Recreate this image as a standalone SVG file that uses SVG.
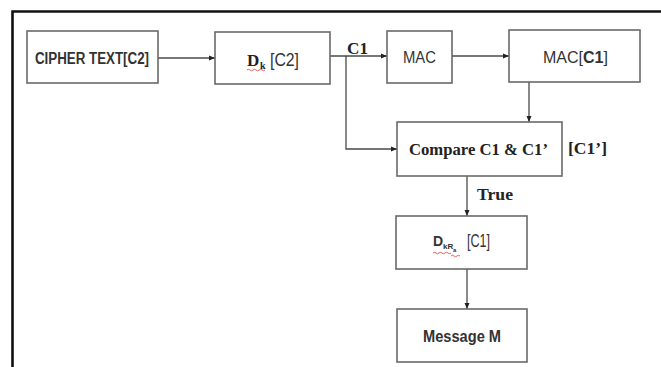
<svg xmlns="http://www.w3.org/2000/svg" width="661" height="367" viewBox="0 0 661 367">
<style>
.box{fill:#fff;stroke:#6a6a6a;stroke-width:1.6}
.ln{fill:none;stroke:#4a4a4a;stroke-width:1.3}
.sans{font-family:"Liberation Sans",Arial,sans-serif;fill:#333}
.serif{font-family:"Liberation Serif","Times New Roman",serif;font-weight:bold;fill:#222}
.sq{fill:none;stroke:#e05050;stroke-width:0.9}
</style>
<defs>
<marker id="ah" markerWidth="6" markerHeight="6" refX="6" refY="3" orient="auto" markerUnits="userSpaceOnUse">
<path d="M0,0.5 L6,3 L0,5.5 z" fill="#222"/>
</marker>
</defs>
<rect x="0" y="0" width="661" height="367" fill="#fff"/>
<path d="M12.5,367 L12.5,11.5 L661,11.5" fill="none" stroke="#111" stroke-width="2.6"/>
<g id="connectors">
<path class="ln" d="M158,58 L215,58" stroke="#4b5a6b" marker-end="url(#ah)"/>
<path class="ln" d="M330,56 L387,56" marker-end="url(#ah)"/>
<path class="ln" d="M346,56 L346,149 L397,149" marker-end="url(#ah)"/>
<path class="ln" d="M452,56 L509,56" marker-end="url(#ah)"/>
<path class="ln" d="M529,82 L529,122" marker-end="url(#ah)"/>
<path class="ln" d="M467,176 L467,216" marker-end="url(#ah)"/>
<path class="ln" d="M467,269 L467,309" marker-end="url(#ah)"/>
<text class="serif" x="347" y="54" font-size="16" textLength="21" lengthAdjust="spacingAndGlyphs">C1</text>
<text class="serif" x="477" y="200" font-size="16" textLength="36" lengthAdjust="spacingAndGlyphs">True</text>
<text class="serif" x="568" y="154" font-size="17" textLength="39" lengthAdjust="spacingAndGlyphs">[C1’]</text>
</g>
<g id="cipher">
<rect class="box" x="27" y="31" width="131" height="52"/>
<text class="sans" x="35" y="64" font-size="16" font-weight="bold" textLength="114" lengthAdjust="spacingAndGlyphs">CIPHER TEXT[C2]</text>
</g>
<g id="dk">
<rect class="box" x="215" y="32" width="115" height="52"/>
<text class="serif" x="247" y="66" font-size="17">D</text>
<text class="serif" x="260" y="69" font-size="10">k</text>
<text class="sans" x="270" y="66" font-size="19" textLength="29" lengthAdjust="spacingAndGlyphs">[C2]</text>
<path class="sq" d="M247,70 q1.5,-1.5 3,0 t3,0 t3,0 t3,0 t3,0 t3,0"/>
</g>
<g id="mac">
<rect class="box" x="387" y="31" width="65" height="52"/>
<text class="sans" x="403" y="63" font-size="16" textLength="33" lengthAdjust="spacingAndGlyphs">MAC</text>
</g>
<g id="macc1">
<rect class="box" x="509" y="30" width="131" height="52"/>
<text class="sans" x="543" y="63" font-size="16"><tspan>MAC[</tspan><tspan font-weight="bold">C1</tspan><tspan>]</tspan></text>
</g>
<g id="compare">
<rect class="box" x="397" y="122" width="165" height="54"/>
<text class="serif" x="409" y="155" font-size="16" textLength="139" lengthAdjust="spacingAndGlyphs">Compare C1 &amp; C1’</text>
</g>
<g id="dkra">
<rect class="box" x="396" y="216" width="131" height="53"/>
<text class="sans" x="433" y="246" font-size="14" font-weight="bold">D</text>
<text class="sans" x="443" y="249" font-size="8" font-weight="bold">k</text>
<text class="sans" x="447.5" y="249" font-size="8" font-weight="bold">R</text>
<text class="sans" x="453" y="252" font-size="6" font-weight="bold">a</text>
<text class="sans" x="467" y="247" font-size="18" textLength="23" lengthAdjust="spacingAndGlyphs">[C1]</text>
<path class="sq" d="M433,253 q1.5,-1.5 3,0 t3,0 t3,0 t3,0 t3,0 t3,0 M451,256 q1.5,-1.5 3,0 t3,0 t3,0"/>
</g>
<g id="message">
<rect class="box" x="397" y="309" width="130" height="53"/>
<text class="sans" x="423" y="342" font-size="17" font-weight="bold" textLength="78" lengthAdjust="spacingAndGlyphs">Message M</text>
</g>
</svg>
